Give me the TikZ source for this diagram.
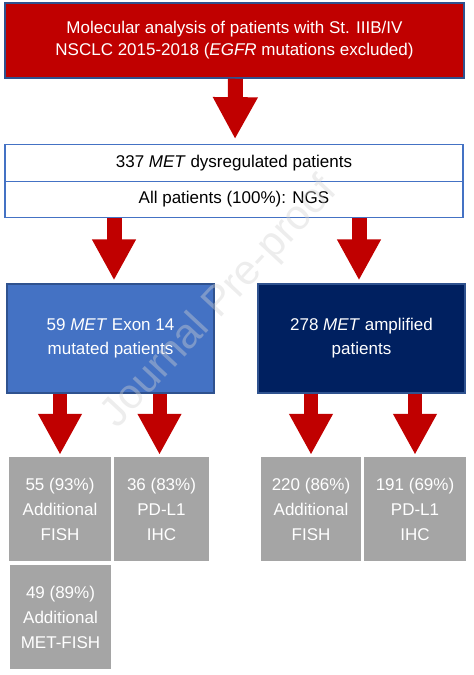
\documentclass[tikz,border=0pt]{standalone}
\usepackage{fontspec}
\setmainfont{Liberation Sans}
\usepackage{tikz}
\usetikzlibrary{arrows.meta}
\definecolor{flowred}{HTML}{C00000}
\definecolor{frameblue}{HTML}{2F528F}
\definecolor{lightblue}{HTML}{4472C4}
\definecolor{navy}{HTML}{002060}
\definecolor{boxgray}{HTML}{A5A5A5}
\tikzstyle{header}=[rectangle,
line width=1.5pt,
draw=frameblue,
fill=flowred,
text=white,
inner sep=0pt,
align=center,
minimum width=459pt,
minimum height=75pt]
\tikzstyle{row}=[rectangle,
line width=1.2pt,
draw=lightblue,
fill=white,
inner sep=0pt,
minimum width=458pt,
minimum height=36.5pt]
\tikzstyle{cohort}=[rectangle,
line width=1.2pt,
draw=frameblue,
text=white,
inner sep=0pt,
align=center,
font=\fontsize{17}{24}\selectfont,
minimum width=207pt,
minimum height=109pt]
\tikzstyle{test}=[rectangle,
fill=boxgray,
text=white,
inner sep=0pt,
align=center,
font=\fontsize{17}{25}\selectfont,
minimum height=104pt]
\tikzstyle{flow}=[draw=flowred,
line width=15pt,
-{Triangle[width=42pt,length=42pt]}]
\tikzstyle{watermark}=[rotate=47,
text=gray!35,
text opacity=0.4,
font=\fontsize{42}{42}\selectfont]

\begin{document}
\begin{tikzpicture}[x=1pt,y=-1pt,font=\fontsize{17}{22}\selectfont]
		\useasboundingbox (0,0) rectangle (474,675);
		
		% Top: study population
		\node (analysis) [header] at (234.5,40.5)
		{Molecular analysis of patients with St. IIIB/IV\\
		NSCLC 2015-2018 (\textit{EGFR} mutations excluded)};
		
		% Second line: all patients, two rows
		\node (dysreg) [row] at (234,163) {337 \textit{MET} dysregulated patients};
		\node (ngs)    [row] at (234,199.5) {All patients (100\%): NGS};
		
		% Third line: the two cohorts
		\node (exon14)    [cohort,fill=lightblue] at (110.5,338.5)
		{59 \textit{MET} Exon 14\\mutated patients};
		\node (amplified) [cohort,fill=navy] at (361.5,338.5)
		{278 \textit{MET} amplified\\patients};
		
		% Fourth line: further tests
		\node (fish_ex)    [test,minimum width=102pt] at (60,509)
		{55 (93\%)\\Additional\\FISH};
		\node (pdl1_ex)    [test,minimum width=95pt] at (161.5,509)
		{36 (83\%)\\PD-L1\\IHC};
		\node (metfish_ex) [test,minimum width=101pt] at (60.5,617)
		{49 (89\%)\\Additional\\MET-FISH};
		\node (fish_amp)   [test,minimum width=100pt] at (311,509)
		{220 (86\%)\\Additional\\FISH};
		\node (pdl1_amp)   [test,minimum width=102pt] at (415,509)
		{191 (69\%)\\PD-L1\\IHC};
		
		% The block arrows between the boxes
		\draw[flow,shorten >=5pt]
		([xshift=1pt]analysis.south) -- ([xshift=1pt]dysreg.north);
		\draw[flow,shorten >=3pt,-{Triangle[width=41pt,length=41pt]}]
		([xshift=3.5pt]ngs.south -| exon14.north) -- ([xshift=3.5pt]exon14.north);
		\draw[flow,shorten >=3pt,-{Triangle[width=41pt,length=41pt]}]
		([xshift=-2.5pt]ngs.south -| amplified.north) -- ([xshift=-2.5pt]amplified.north);
		\draw[flow,line width=14pt,shorten >=2pt,-{Triangle[width=41pt,length=41pt]}]
		(exon14.south -| fish_ex.north) -- (fish_ex.north);
		\draw[flow,line width=14pt,shorten >=2pt,-{Triangle[width=41pt,length=41pt]}]
		([xshift=-2pt]exon14.south -| pdl1_ex.north) -- ([xshift=-2pt]pdl1_ex.north);
		\draw[flow,line width=14pt,shorten >=2pt,-{Triangle[width=41pt,length=41pt]}]
		(amplified.south -| fish_amp.north) -- (fish_amp.north);
		\draw[flow,line width=14pt,shorten >=2pt,-{Triangle[width=41pt,length=41pt]}]
		(amplified.south -| pdl1_amp.north) -- (pdl1_amp.north);
		
		% Watermark on top of everything
		\node (stamp) [watermark] at (220,303) {Journal Pre-proof};
\end{tikzpicture}
\end{document}
